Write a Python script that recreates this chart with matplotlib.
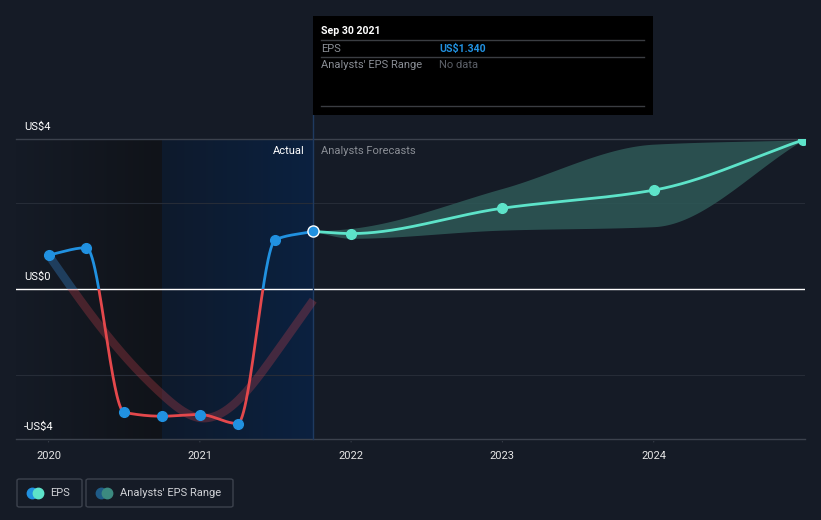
import matplotlib
matplotlib.use("Agg")
import matplotlib.pyplot as plt
from matplotlib.lines import Line2D
from matplotlib.patches import Rectangle, FancyBboxPatch
from matplotlib.colors import LinearSegmentedColormap
import numpy as np

plt.rcParams['font.family'] = ['Roboto', 'DejaVu Sans']

# Reported EPS (quarterly, trailing) in US$
hist_x = [2020.0, 2020.25, 2020.5, 2020.75, 2021.0, 2021.25, 2021.5, 2021.75]
hist_eps = [0.79, 0.96, -2.87, -2.96, -2.92, -3.13, 1.15, 1.34]
# faded trend line behind the history
trend_eps = [0.79, -0.45, -1.55, -2.45, -3.0, -2.6, -1.5, -0.26]

# Analyst forecasts
fc_x = [2021.75, 2022.0, 2023.0, 2024.0, 2024.99]
fc_eps = [1.34, 1.29, 1.88, 2.30, 3.47]
fc_high = [1.34, 1.41, 2.34, 3.37, 3.47]
fc_low = [1.34, 1.18, 1.37, 1.45, 3.47]

year_ticks = [2020, 2021, 2022, 2023, 2024]
y_labels = ["US$4", "US$0", "-US$4"]

BG = '#151b26'
BLUE = '#2191e0'
RED = '#e4484c'
TEAL = '#5de3c9'
W, H = 821, 520


def fx(x):
    return x / W


def fy(y):
    return 1 - y / H


def monotone(x, y, xs):
    # monotone cubic (like d3 curveMonotoneX)
    x = np.asarray(x, float)
    y = np.asarray(y, float)
    h = np.diff(x)
    d = np.diff(y) / h
    m = np.zeros_like(y)
    m[0] = d[0]
    m[-1] = d[-1]
    for i in range(1, len(y) - 1):
        if d[i - 1] * d[i] > 0:
            w1 = 2 * h[i] + h[i - 1]
            w2 = h[i] + 2 * h[i - 1]
            m[i] = (w1 + w2) / (w1 / d[i - 1] + w2 / d[i])
    return hermite(x, y, m, xs)


def natural(x, y, xs):
    # natural cubic spline, used for the smooth trend line
    x = np.asarray(x, float)
    y = np.asarray(y, float)
    n = len(x)
    h = np.diff(x)
    A = np.zeros((n, n))
    b = np.zeros(n)
    A[0, 0] = A[-1, -1] = 1
    for i in range(1, n - 1):
        A[i, i - 1] = h[i - 1]
        A[i, i] = 2 * (h[i - 1] + h[i])
        A[i, i + 1] = h[i]
        b[i] = 3 * ((y[i + 1] - y[i]) / h[i] - (y[i] - y[i - 1]) / h[i - 1])
    c = np.linalg.solve(A, b)
    idx = np.clip(np.searchsorted(x, xs) - 1, 0, n - 2)
    bb = (y[1:] - y[:-1]) / h - h * (2 * c[:-1] + c[1:]) / 3
    dd = (c[1:] - c[:-1]) / (3 * h)
    t = xs - x[idx]
    return y[idx] + bb[idx] * t + c[idx] * t**2 + dd[idx] * t**3


def hermite(x, y, m, xs):
    h = np.diff(x)
    idx = np.clip(np.searchsorted(x, xs) - 1, 0, len(h) - 1)
    t = (xs - x[idx]) / h[idx]
    h00 = 2 * t**3 - 3 * t**2 + 1
    h10 = t**3 - 2 * t**2 + t
    h01 = -2 * t**3 + 3 * t**2
    h11 = t**3 - t**2
    return h00 * y[idx] + h10 * h[idx] * m[idx] + h01 * y[idx + 1] + h11 * h[idx] * m[idx + 1]


fig = plt.figure(figsize=(W / 100, H / 100), dpi=100, facecolor=BG)
ax = fig.add_axes([fx(16), fy(439), (805 - 16) / W, (439 - 139) / H])
ax.set_facecolor(BG)
x0, x1 = 2019.785, 2025.0
y0, y1 = -3.49, 3.49
ax.set_xlim(x0, x1)
ax.set_ylim(y0, y1)
for s in ax.spines.values():
    s.set_visible(False)
ax.set_yticks([])
ax.set_xticks([])

# shaded past regions (horizontal gradients)
grad = np.linspace(0, 1, 256).reshape(1, -1)
dark = LinearSegmentedColormap.from_list('dark', [BG, '#101319'])
navy = LinearSegmentedColormap.from_list('navy', ['#0e1a2c', '#0b2140'])
ax.imshow(grad, cmap=dark, extent=[x0, 2020.75, y0, y1], aspect='auto', zorder=0)
ax.imshow(grad, cmap=navy, extent=[2020.75, 2021.75, y0, y1], aspect='auto', zorder=0)
ax.set_xlim(x0, x1)
ax.set_ylim(y0, y1)

# grid lines
for g in [-2, 2]:
    ax.axhline(g, color='#262c37', lw=0.8, zorder=1)
ax.axhline(y1, color='#3c424d', lw=1, zorder=1, clip_on=False)
ax.axhline(y0, color='#3c424d', lw=1, zorder=1, clip_on=False)
ax.axhline(0, color='white', lw=1, zorder=2)
ax.axvline(2021.75, ymin=0, ymax=(439 - 115) / 300, color='#1f3a60', lw=1,
           zorder=2, clip_on=False)

pos_clip = Rectangle((x0, 0), x1 - x0, y1 - y0, transform=ax.transData)
neg_clip = Rectangle((x0, y0), x1 - x0, -y0, transform=ax.transData)

# faded trend
xs = np.linspace(hist_x[0], hist_x[-1], 400)
ts = natural(hist_x, trend_eps, xs)
l1, = ax.plot(xs, ts, color='#2f6ea8', lw=6, alpha=0.45, zorder=3, solid_capstyle='butt')
l1.set_clip_path(pos_clip)
l2, = ax.plot(xs, ts, color='#c8424d', lw=6, alpha=0.3, zorder=3, solid_capstyle='butt')
l2.set_clip_path(neg_clip)

# history line
hs = monotone(hist_x, hist_eps, xs)
l3, = ax.plot(xs, hs, color=BLUE, lw=2, zorder=4)
l3.set_clip_path(pos_clip)
l4, = ax.plot(xs, hs, color=RED, lw=2, zorder=4)
l4.set_clip_path(neg_clip)
ax.plot(hist_x[:-1], hist_eps[:-1], 'o', color=BLUE, ms=7, zorder=5)
ax.plot(hist_x[-1], hist_eps[-1], 'o', color=BLUE, ms=8, mec='white', mew=1, zorder=6)

# forecast band and line
fxs = np.linspace(fc_x[0], fc_x[-1], 400)
ax.fill_between(fxs, monotone(fc_x, fc_low, fxs), monotone(fc_x, fc_high, fxs),
                color='#2e5957', alpha=0.85, lw=0, zorder=3)
ax.plot(fxs, monotone(fc_x, fc_eps, fxs), color=TEAL, lw=2, zorder=4)
ax.plot(fc_x[1:], fc_eps[1:], 'o', color=TEAL, ms=7, zorder=5)

# x ticks
for yr in year_ticks:
    ax.annotate('', xy=(yr, y0), xytext=(0, -4), textcoords='offset points',
                arrowprops=dict(arrowstyle='-', color='#3c424d', lw=1), annotation_clip=False)
    ax.annotate(str(yr), xy=(yr, y0), xytext=(0, -12), textcoords='offset points',
                ha='center', va='center', color='#e6e6e6', fontsize=8, annotation_clip=False)

# y labels
for lab, yy in zip(y_labels, [127, 277, 427]):
    fig.text(fx(24), fy(yy), lab, color='white', fontsize=8, ha='left', va='center')

fig.text(fx(305), fy(151), "Actual", color='white', fontsize=8, ha='right', va='center')
fig.text(fx(321), fy(151), "Analysts Forecasts", color='#8a8e95', fontsize=8,
         ha='left', va='center')

# tooltip
fig.patches.append(Rectangle((fx(313), fy(115)), 340 / W, 99 / H, transform=fig.transFigure,
                             facecolor='black', edgecolor='none', zorder=10))
for ly in [40, 57, 106]:
    fig.add_artist(Line2D([fx(321), fx(644)], [fy(ly), fy(ly)], color='#3a3d42', lw=1,
                          transform=fig.transFigure, zorder=11))
fig.text(fx(321), fy(31), "Sep 30 2021", color='white', fontsize=7.6, fontweight='bold',
         ha='left', va='center', zorder=12)
fig.text(fx(321), fy(48.5), "EPS", color='#8a8e95', fontsize=8, ha='left', va='center', zorder=12)
fig.text(fx(439), fy(48.5), "US$1.340", color=BLUE, fontsize=7.6, fontweight='bold',
         ha='left', va='center', zorder=12)
fig.text(fx(321), fy(65), "Analysts' EPS Range", color='#8a8e95', fontsize=8,
         ha='left', va='center', zorder=12)
fig.text(fx(439), fy(65), "No data", color='#5c6068', fontsize=8, ha='left', va='center', zorder=12)

# legend
for bx0, bx1 in [(17, 82), (86, 233)]:
    fig.patches.append(FancyBboxPatch((fx(bx0), fy(507)), (bx1 - bx0) / W, 28 / H,
                                      boxstyle='round,pad=0,rounding_size=0.003',
                                      transform=fig.transFigure, facecolor='none',
                                      edgecolor='#3c424d', lw=1))
for cx, c in [(32, BLUE), (38, TEAL), (101, '#1f5b87'), (107, '#3c8a80')]:
    fig.add_artist(Line2D([fx(cx)], [fy(493)], marker='o', ms=7.5, color=c, lw=0,
                          transform=fig.transFigure))
fig.text(fx(50), fy(493), "EPS", color='#d0d2d6', fontsize=8, ha='left', va='center')
fig.text(fx(120), fy(493), "Analysts' EPS Range", color='#d0d2d6', fontsize=8,
         ha='left', va='center')

fig.savefig("out.png", dpi=100, facecolor=BG)
